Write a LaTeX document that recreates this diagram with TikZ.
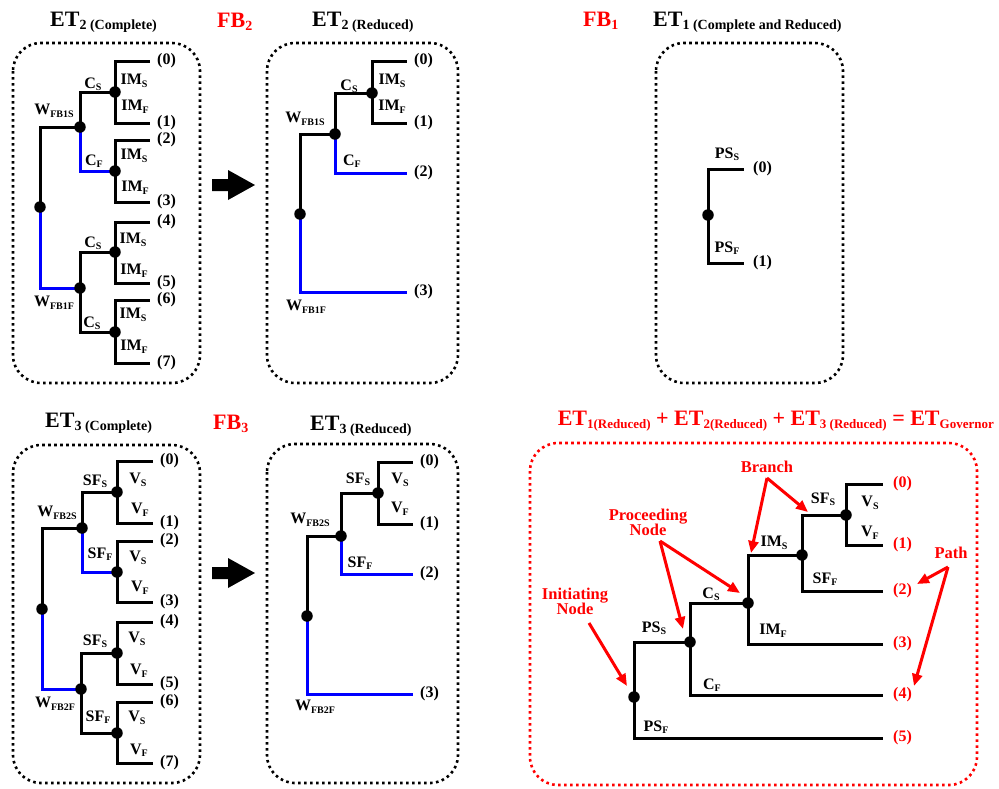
\documentclass[tikz,border=0pt]{standalone}
\usepackage{fontspec}
\setmainfont{Liberation Serif}
\usetikzlibrary{arrows.meta}
\pgfdeclarelayer{bg}
\pgfsetlayers{bg,main}
\newcommand\myLf{\fontsize{16}{18}\selectfont\bfseries}
\newcommand\myTf{\fontsize{22}{24}\selectfont\bfseries}
\newcommand\myRf{\fontsize{16.5}{17}\selectfont\bfseries}
\newcommand\myLs[1]{\raisebox{-2.5pt}{\fontsize{10}{10}\selectfont #1}}
\newcommand\myTs[1]{\raisebox{-3.5pt}{\fontsize{14}{14}\selectfont #1}}
\newcommand\myRs[1]{\raisebox{-3.5pt}{\fontsize{13}{13}\selectfont #1}}
\definecolor{myblue}{RGB}{0,0,255}
\definecolor{myred}{RGB}{255,0,0}
\begin{document}
\begin{tikzpicture}[x=1pt,y=-1pt,
  blk/.style={line width=3pt, draw=black},
  blu/.style={line width=3pt, draw=myblue},
  dot/.style={circle, fill=black, inner sep=0pt, minimum size=11.5pt},
  lab/.style={font=\myLf, inner sep=0pt},
  leaf/.style={font=\myLf, anchor=west, inner xsep=7pt, inner ysep=0pt},
  rleaf/.style={font=\myLf, anchor=west, inner xsep=10pt, inner ysep=0pt, text=myred},
  box/.style={line width=2.6pt, dash pattern=on 2.6pt off 3.4pt, rounded corners=28pt},
  ttl/.style={font=\myTf, anchor=base west, inner sep=0pt},
  rtxt/.style={font=\myRf, text=myred, inner sep=0pt, align=center},
  rarr/.style={draw=myred, line width=3pt, -{Triangle[length=12pt,width=10pt]}},
  bigarrow/.style={fill=black}]
\useasboundingbox (0,0) rectangle (999,788);

% ---------------- titles ----------------
\node[ttl] (t1) at (50,26) {ET\myTs{2 (Complete)}};
\node[ttl, text=myred] (t2) at (217,27) {FB\myTs{2}};
\node[ttl] (t3) at (312,26) {ET\myTs{2 (Reduced)}};
\node[ttl, text=myred] (t4) at (583,26) {FB\myTs{1}};
\node[ttl] (t5) at (653,26) {ET\myTs{1 (Complete and Reduced)}};
\node[ttl] (t6) at (45,427) {ET\myTs{3 (Complete)}};
\node[ttl, text=myred] (t7) at (213,429) {FB\myTs{3}};
\node[ttl] (t8) at (310,430) {ET\myTs{3 (Reduced)}};
\node[font=\myTf, anchor=base east, inner sep=0pt, text=myred] (t9) at (994,425)
  {ET\myRs{1(Reduced)} + ET\myRs{2(Reduced)} + ET\myRs{3 (Reduced)} = ET\myRs{Governor}};

% ---------------- boxes ----------------
\draw[box] (13,43) rectangle (200,383);
\draw[box] (267,43) rectangle (458,383);
\draw[box] (656,43) rectangle (843,383);
\draw[box] (13,445) rectangle (200,783);
\draw[box] (267,444) rectangle (458,783);
\draw[box, draw=myred] (530,443) rectangle (977,785);

% ---------------- big arrows ----------------
\fill[bigarrow] (212,179) -- (228,179) -- (228,170) -- (255,185) -- (228,200) -- (228,191) -- (212,191) -- cycle;
\fill[bigarrow] (212,567) -- (228,567) -- (228,558) -- (255,573) -- (228,588) -- (228,579) -- (212,579) -- cycle;

% ================= ET2 complete =================
\node[dot] (A0) at (40,207) {};
\node[dot] (A1) at (80,127) {};
\node[dot] (A2) at (115,92) {};
\node[dot] (A3) at (115,171) {};
\node[dot] (A4) at (80,288) {};
\node[dot] (A5) at (115,252) {};
\node[dot] (A6) at (115,332) {};
\node[leaf] (Al0) at (150,61) {(0)};
\node[leaf] (Al1) at (150,123) {(1)};
\node[leaf] (Al2) at (150,140) {(2)};
\node[leaf] (Al3) at (150,202) {(3)};
\node[leaf] (Al4) at (150,222) {(4)};
\node[leaf] (Al5) at (150,283) {(5)};
\node[leaf] (Al6) at (150,300) {(6)};
\node[leaf] (Al7) at (150,363) {(7)};
\begin{pgfonlayer}{bg}
\draw[blk] (A0.center) |- (A1.center);
\draw[blu] (A0.center) |- (A4.center);
\draw[blk] (A1.center) |- (A2.center);
\draw[blu] (A1.center) |- (A3.center);
\draw[blk] (A4.center) |- (A5.center);
\draw[blk] (A4.center) |- (A6.center);
\draw[blk] (A2.center) |- (Al0.west);
\draw[blk] (A2.center) |- (Al1.west);
\draw[blk] (A3.center) |- (Al2.west);
\draw[blk] (A3.center) |- (Al3.west);
\draw[blk] (A5.center) |- (Al4.west);
\draw[blk] (A5.center) |- (Al5.west);
\draw[blk] (A6.center) |- (Al6.west);
\draw[blk] (A6.center) |- (Al7.west);
\end{pgfonlayer}
\node[lab] (Ax1) at (93,84) {C\myLs{S}};
\node[lab] (Ax2) at (134,81) {IM\myLs{S}};
\node[lab] (Ax3) at (135,107) {IM\myLs{F}};
\node[lab] (Ax4) at (54,111) {W\myLs{FB1S}};
\node[lab] (Ax5) at (94,161) {C\myLs{F}};
\node[lab] (Ax6) at (134,156) {IM\myLs{S}};
\node[lab] (Ax7) at (135,188) {IM\myLs{F}};
\node[lab] (Ax8) at (93,243) {C\myLs{S}};
\node[lab] (Ax9) at (133,240) {IM\myLs{S}};
\node[lab] (Ax10) at (134,271) {IM\myLs{F}};
\node[lab] (Ax11) at (54,303) {W\myLs{FB1F}};
\node[lab] (Ax12) at (92,323) {C\myLs{S}};
\node[lab] (Ax13) at (133,315) {IM\myLs{S}};
\node[lab] (Ax14) at (134,347) {IM\myLs{F}};

% ================= ET2 reduced =================
\node[dot] (B0) at (300,214) {};
\node[dot] (B1) at (335,134) {};
\node[dot] (B2) at (372,93) {};
\node[leaf] (Bl0) at (407,61) {(0)};
\node[leaf] (Bl1) at (407,123) {(1)};
\node[leaf] (Bl2) at (407,173) {(2)};
\node[leaf] (Bl3) at (407,292) {(3)};
\begin{pgfonlayer}{bg}
\draw[blk] (B0.center) |- (B1.center);
\draw[blu] (B0.center) |- (Bl3.west);
\draw[blk] (B1.center) |- (B2.center);
\draw[blu] (B1.center) |- (Bl2.west);
\draw[blk] (B2.center) |- (Bl0.west);
\draw[blk] (B2.center) |- (Bl1.west);
\end{pgfonlayer}
\node[lab] (Bx1) at (349,86) {C\myLs{S}};
\node[lab] (Bx2) at (392,81) {IM\myLs{S}};
\node[lab] (Bx3) at (392,107) {IM\myLs{F}};
\node[lab] (Bx4) at (305,119) {W\myLs{FB1S}};
\node[lab] (Bx5) at (352,161) {C\myLs{F}};
\node[lab] (Bx6) at (306,307) {W\myLs{FB1F}};

% ================= ET1 =================
\node[dot] (C0) at (708,215) {};
\node[leaf, inner xsep=9pt] (Cl0) at (744,169) {(0)};
\node[leaf, inner xsep=9pt] (Cl1) at (744,263) {(1)};
\begin{pgfonlayer}{bg}
\draw[blk] (C0.center) |- (Cl0.west);
\draw[blk] (C0.center) |- (Cl1.west);
\end{pgfonlayer}
\node[lab] (Cx1) at (727,154) {PS\myLs{S}};
\node[lab] (Cx2) at (727,248) {PS\myLs{F}};

% ================= ET3 complete =================
\node[dot] (D0) at (42,609) {};
\node[dot] (D1) at (82,528) {};
\node[dot] (D2) at (117,492) {};
\node[dot] (D3) at (117,572) {};
\node[dot] (D4) at (81,689) {};
\node[dot] (D5) at (117,653) {};
\node[dot] (D6) at (117,733) {};
\node[leaf] (Dl0) at (153,461) {(0)};
\node[leaf] (Dl1) at (153,523) {(1)};
\node[leaf] (Dl2) at (153,541) {(2)};
\node[leaf] (Dl3) at (153,602) {(3)};
\node[leaf] (Dl4) at (153,622) {(4)};
\node[leaf] (Dl5) at (153,684) {(5)};
\node[leaf] (Dl6) at (153,702) {(6)};
\node[leaf] (Dl7) at (153,763) {(7)};
\begin{pgfonlayer}{bg}
\draw[blk] (D0.center) |- (D1.center);
\draw[blu] (D0.center) |- (D4.center);
\draw[blk] (D1.center) |- (D2.center);
\draw[blu] (D1.center) |- (D3.center);
\draw[blk] (D4.center) |- (D5.center);
\draw[blk] (D4.center) |- (D6.center);
\draw[blk] (D2.center) |- (Dl0.west);
\draw[blk] (D2.center) |- (Dl1.west);
\draw[blk] (D3.center) |- (Dl2.west);
\draw[blk] (D3.center) |- (Dl3.west);
\draw[blk] (D5.center) |- (Dl4.west);
\draw[blk] (D5.center) |- (Dl5.west);
\draw[blk] (D6.center) |- (Dl6.west);
\draw[blk] (D6.center) |- (Dl7.west);
\end{pgfonlayer}
\node[lab] (Dx1) at (95,481) {SF\myLs{S}};
\node[lab] (Dx2) at (138,480) {V\myLs{S}};
\node[lab] (Dx3) at (140,510) {V\myLs{F}};
\node[lab] (Dx4) at (57,513) {W\myLs{FB2S}};
\node[lab] (Dx5) at (100,554) {SF\myLs{F}};
\node[lab] (Dx6) at (138,558) {V\myLs{S}};
\node[lab] (Dx7) at (140,588) {V\myLs{F}};
\node[lab] (Dx8) at (95,641) {SF\myLs{S}};
\node[lab] (Dx9) at (137,639) {V\myLs{S}};
\node[lab] (Dx10) at (139,671) {V\myLs{F}};
\node[lab] (Dx11) at (55,704) {W\myLs{FB2F}};
\node[lab] (Dx12) at (98,717) {SF\myLs{F}};
\node[lab] (Dx13) at (137,718) {V\myLs{S}};
\node[lab] (Dx14) at (139,750) {V\myLs{F}};

% ================= ET3 reduced =================
\node[dot] (E0) at (307,616) {};
\node[dot] (E1) at (341,536) {};
\node[dot] (E2) at (378,493) {};
\node[leaf] (El0) at (413,462) {(0)};
\node[leaf] (El1) at (413,524) {(1)};
\node[leaf] (El2) at (413,574) {(2)};
\node[leaf] (El3) at (413,694) {(3)};
\begin{pgfonlayer}{bg}
\draw[blk] (E0.center) |- (E1.center);
\draw[blu] (E0.center) |- (El3.west);
\draw[blk] (E1.center) |- (E2.center);
\draw[blu] (E1.center) |- (El2.west);
\draw[blk] (E2.center) |- (El0.west);
\draw[blk] (E2.center) |- (El1.west);
\end{pgfonlayer}
\node[lab] (Ex1) at (358,479) {SF\myLs{S}};
\node[lab] (Ex2) at (400,480) {V\myLs{S}};
\node[lab] (Ex3) at (400,509) {V\myLs{F}};
\node[lab] (Ex4) at (310,520) {W\myLs{FB2S}};
\node[lab] (Ex5) at (360,563) {SF\myLs{F}};
\node[lab] (Ex6) at (315,707) {W\myLs{FB2F}};

% ================= ET governor =================
\node[dot] (F0) at (634,697) {};
\node[dot] (F1) at (690,642) {};
\node[dot] (F2) at (748,603) {};
\node[dot] (F3) at (802,555) {};
\node[dot] (F4) at (846,515) {};
\node[rleaf] (Fl0) at (883,484) {(0)};
\node[rleaf] (Fl1) at (883,545) {(1)};
\node[rleaf] (Fl2) at (883,591) {(2)};
\node[rleaf] (Fl3) at (883,644) {(3)};
\node[rleaf] (Fl4) at (883,695) {(4)};
\node[rleaf] (Fl5) at (883,738) {(5)};
\begin{pgfonlayer}{bg}
\draw[blk] (F0.center) |- (F1.center);
\draw[blk] (F0.center) |- (Fl5.west);
\draw[blk] (F1.center) |- (F2.center);
\draw[blk] (F1.center) |- (Fl4.west);
\draw[blk] (F2.center) |- (F3.center);
\draw[blk] (F2.center) |- (Fl3.west);
\draw[blk] (F3.center) |- (F4.center);
\draw[blk] (F3.center) |- (Fl2.west);
\draw[blk] (F4.center) |- (Fl0.west);
\draw[blk] (F4.center) |- (Fl1.west);
\end{pgfonlayer}
\node[lab] (Fx1) at (823,499) {SF\myLs{S}};
\node[lab] (Fx2) at (870,503) {V\myLs{S}};
\node[lab] (Fx3) at (870,533) {V\myLs{F}};
\node[lab] (Fx4) at (774,543) {IM\myLs{S}};
\node[lab] (Fx5) at (825,579) {SF\myLs{F}};
\node[lab] (Fx6) at (711,594) {C\myLs{S}};
\node[lab] (Fx7) at (773,631) {IM\myLs{F}};
\node[lab] (Fx8) at (654,628) {PS\myLs{S}};
\node[lab] (Fx9) at (712,685) {C\myLs{F}};
\node[lab] (Fx10) at (656,727) {PS\myLs{F}};

% red annotations
\node[rtxt] (Rb) at (767,467) {Branch};
\node[rtxt] (Rp) at (648,522) {Proceeding\\[-2pt]Node};
\node[rtxt] (Ri) at (575,601) {Initiating\\[-2pt]Node};
\node[rtxt] (Rh) at (951,553) {Path};
\coordinate (Rbt) at (767,478);
\coordinate (Rpt) at (660,541);
\coordinate (Rit) at (589,623);
\coordinate (Rht) at (948,567);
\coordinate (Rb1) at (808,512);
\coordinate (Rb2) at (751,553);
\coordinate (Rp1) at (683,629);
\coordinate (Rp2) at (740,593);
\coordinate (Ri1) at (627,686);
\coordinate (Rh1) at (917,584);
\coordinate (Rh2) at (914,686);
\draw[rarr] (Rbt) -- (Rb1);
\draw[rarr] (Rbt) -- (Rb2);
\draw[rarr] (Rpt) -- (Rp1);
\draw[rarr] (Rpt) -- (Rp2);
\draw[rarr] (Rit) -- (Ri1);
\draw[rarr] (Rht) -- (Rh1);
\draw[rarr] (Rht) -- (Rh2);
\end{tikzpicture}
\end{document}
